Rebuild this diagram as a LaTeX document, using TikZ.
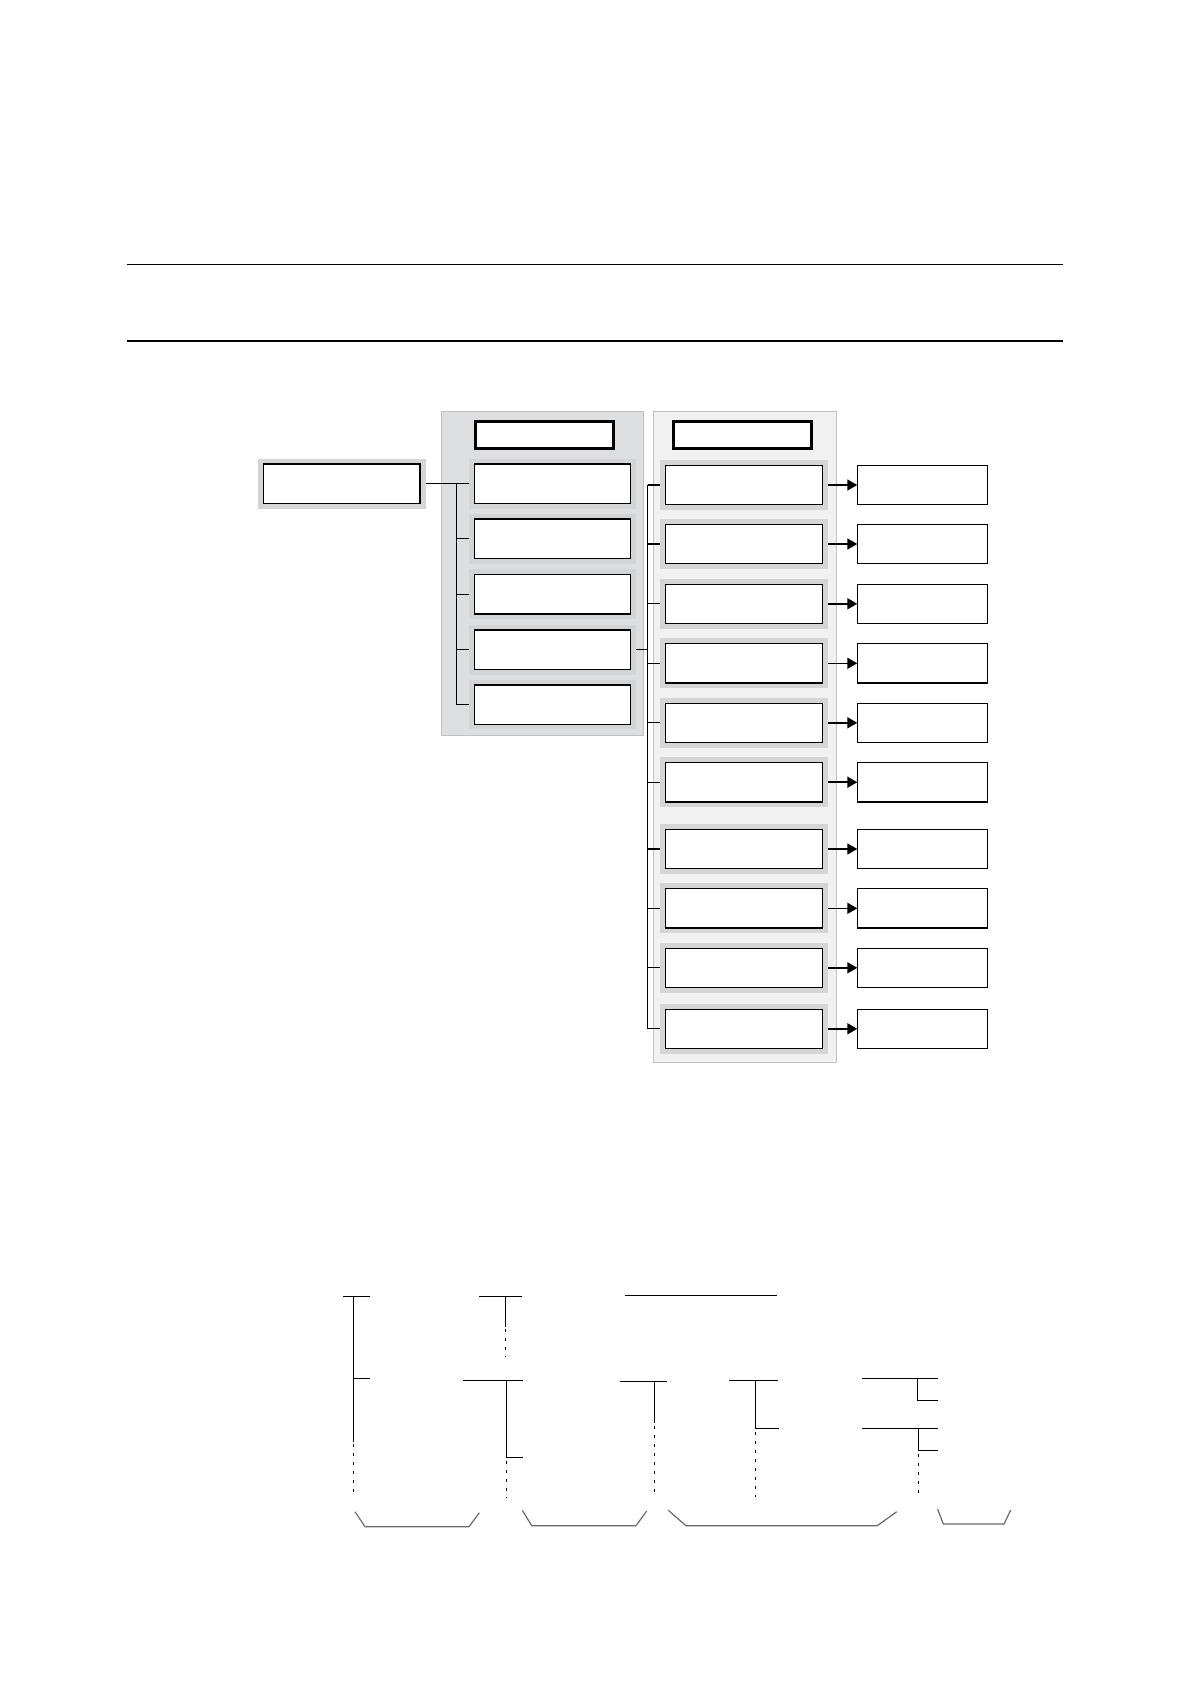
\documentclass[tikz,border=0pt]{standalone}
\usepackage{tikz}
\usetikzlibrary{arrows.meta,backgrounds}
\definecolor{panelA}{RGB}{221,222,224}
\definecolor{frameA}{RGB}{211,212,214}
\definecolor{panelB}{RGB}{241,241,241}
\definecolor{frameB}{RGB}{213,213,213}
\definecolor{edgegray}{RGB}{192,192,192}
\definecolor{bracegray}{RGB}{105,105,105}

\begin{document}
\begin{tikzpicture}[x=1pt,y=-1pt,
        box/.style={draw, rectangle, line width=1.3pt, fill=white, outer sep=0pt, minimum height=39.3pt},
        rootbox/.style={box, minimum width=156.7pt, preaction={draw=frameB, line width=11pt}},
        catbox/.style={box, minimum width=156.4pt, preaction={draw=frameA, line width=10.4pt}},
        subbox/.style={box, minimum width=157pt, preaction={draw=frameB, line width=10.6pt}},
        resbox/.style={box, minimum width=130.4pt},
        headbox/.style={draw, rectangle, line width=2.8pt, fill=white, minimum width=137.6pt, minimum height=26.6pt},
        link/.style={line width=1.3pt},
        arr/.style={line width=1.6pt, -{Triangle[length=10pt,width=11pt]}},
        thin/.style={line width=1pt},
        gap/.style={line width=1pt, dash pattern=on 3pt off 6pt},
        brace/.style={line width=1.2pt, draw=bracegray}]
        \useasboundingbox (0,0) rectangle (1190,1684);
        \begin{scope}[on background layer]
            \filldraw[fill=panelA, draw=edgegray, line width=1pt] (441,411) rectangle (643.3,735.7);
            \filldraw[fill=panelB, draw=edgegray, line width=1pt] (653.3,411) rectangle (836.7,1062.3);
        \end{scope}
        \draw[link] (126.7,264.3) -- (1062.7,264.3);
        \draw[link] (126.7,341) -- (1062.7,341);
        \node[headbox] (headA) at (544.5,435) {};
        \node[headbox] (headB) at (742.5,435) {};
        \node[rootbox] (root) at (341.7,483.7) {};
        \node[catbox] (cat1) at (552.5,483.7) {};
        \node[catbox] (cat2) at (552.5,538.7) {};
        \node[catbox] (cat3) at (552.5,594.3) {};
        \node[catbox] (cat4) at (552.5,649.7) {};
        \node[catbox] (cat5) at (552.5,704.5) {};
        \node[subbox] (sub1) at (743.8,485) {};
        \node[subbox] (sub2) at (743.8,544) {};
        \node[subbox] (sub3) at (743.8,603.8) {};
        \node[subbox] (sub4) at (743.8,663.3) {};
        \node[subbox] (sub5) at (743.8,722.8) {};
        \node[subbox] (sub6) at (743.8,782.2) {};
        \node[subbox] (sub7) at (743.8,849) {};
        \node[subbox] (sub8) at (743.8,908.3) {};
        \node[subbox] (sub9) at (743.8,967.8) {};
        \node[subbox] (sub10) at (743.8,1028.8) {};
        \node[resbox] (res1) at (922.5,485) {};
        \node[resbox] (res2) at (922.5,544) {};
        \node[resbox] (res3) at (922.5,603.8) {};
        \node[resbox] (res4) at (922.5,663.3) {};
        \node[resbox] (res5) at (922.5,722.8) {};
        \node[resbox] (res6) at (922.5,782.2) {};
        \node[resbox] (res7) at (922.5,849) {};
        \node[resbox] (res8) at (922.5,908.3) {};
        \node[resbox] (res9) at (922.5,967.8) {};
        \node[resbox] (res10) at (922.5,1028.8) {};
        \coordinate (brA) at (456.7,483.7);
        \coordinate (brB) at (647.7,485);
        \begin{scope}[on background layer]
            \draw[link] (root.east) -- (cat1.west);
            \draw[link] (brA |- cat1) -- (brA |- cat5);
            \draw[link] (brA |- cat2) -- (cat2.west);
            \draw[link] (brA |- cat3) -- (cat3.west);
            \draw[link] (brA |- cat4) -- (cat4.west);
            \draw[link] (brA |- cat5) -- (cat5.west);
            \draw[link] (cat4.east) -- (brB |- cat4);
            \draw[link] (brB |- sub1) -- (brB |- sub10);
            \foreach \i in {1,...,10} {
                \draw[link] (brB |- sub\i) -- (sub\i.west);
                \draw[arr] (sub\i.east) -- (res\i.west);
            }
        \end{scope}
        \draw[thin] (343.3,1296) -- (370,1296);
        \draw[thin] (353.3,1296) -- (353.3,1441.7);
        \draw[thin] (353.3,1378.3) -- (370,1378.3);
        \draw[gap] (353.3,1444) -- (353.3,1497);
        \draw[thin] (479,1296) -- (522.3,1296);
        \draw[thin] (505.7,1296) -- (505.7,1326.7);
        \draw[gap] (505.7,1329) -- (505.7,1357);
        \draw[thin] (463.3,1380) -- (522.7,1380);
        \draw[thin] (506.3,1380) -- (506.3,1457.3) -- (522.7,1457.3);
        \draw[gap] (506.3,1461) -- (506.3,1498);
        \draw[thin] (625,1295.3) -- (776.7,1295.3);
        \draw[thin] (620,1381) -- (666.7,1381);
        \draw[thin] (654.3,1381) -- (654.3,1422.7);
        \draw[gap] (654.3,1426) -- (654.3,1497);
        \draw[thin] (729,1380) -- (777.7,1380);
        \draw[thin] (755.7,1380) -- (755.7,1428) -- (779,1428);
        \draw[gap] (755.7,1432) -- (755.7,1497);
        \draw[thin] (862.3,1378.3) -- (938.3,1378.3);
        \draw[thin] (917.3,1378.3) -- (917.3,1400) -- (938.3,1400);
        \draw[thin] (862.3,1428) -- (938.3,1428);
        \draw[thin] (918.3,1428) -- (918.3,1450.3) -- (938.3,1450.3);
        \draw[gap] (918.3,1454) -- (918.3,1496);
        \draw[brace] (355,1511.7) -- (365,1526.7) -- (469,1526.7) -- (479.3,1512.7);
        \draw[brace] (522.3,1510.3) -- (531.7,1525.7) -- (636,1525.7) -- (646.7,1511);
        \draw[brace] (668.3,1510.3) -- (686,1525.7) -- (877.3,1525.7) -- (896.7,1511.7);
        \draw[brace] (937.7,1509.3) -- (943.3,1524) -- (1004,1524) -- (1010.7,1510);
\end{tikzpicture}
\end{document}
